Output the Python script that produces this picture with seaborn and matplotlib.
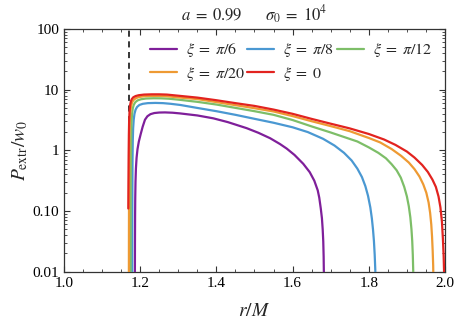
import numpy as np
import pandas as pd
import matplotlib
matplotlib.use("Agg")
import matplotlib.pyplot as plt
import matplotlib.ticker as mticker
import seaborn as sns

# Valeurs (r/M, P_extr/w0)
r_pi6 = [1.1861, 1.1863, 1.1866, 1.187, 1.1877, 1.1888, 1.1905, 1.193, 1.1965, 1.2013, 1.2065,
         1.2126, 1.219, 1.227, 1.237, 1.25, 1.265, 1.285, 1.305, 1.35, 1.392, 1.43, 1.4795,
         1.51, 1.541, 1.567, 1.5845, 1.605, 1.628, 1.645, 1.657, 1.666, 1.670, 1.674, 1.677,
         1.679, 1.6805, 1.6815, 1.682, 1.6826]
p_pi6 = [0.008, 0.03, 0.08, 0.16, 0.3, 0.5, 0.75, 1.05, 1.4, 1.85, 2.45,
         3.2, 3.65, 3.95, 4.12, 4.2, 4.22, 4.17, 4.06, 3.76, 3.37, 2.92, 2.32,
         1.95, 1.585, 1.27, 1.07, 0.84, 0.60, 0.437, 0.316, 0.219, 0.166, 0.11, 0.076,
         0.050, 0.0316, 0.0178, 0.0105, 0.008]

r_pi8 = [1.179, 1.1792, 1.1795, 1.1799, 1.1805, 1.1815, 1.183, 1.185, 1.188, 1.192, 1.198,
         1.207, 1.22, 1.24, 1.26, 1.28, 1.305, 1.35, 1.40, 1.45, 1.50, 1.55, 1.60, 1.64,
         1.68, 1.71, 1.735, 1.755, 1.77, 1.782, 1.791, 1.798, 1.804, 1.808, 1.811, 1.8135,
         1.8155, 1.817, 1.8177]
p_pi8 = [0.008, 0.05, 0.25, 0.7, 1.4, 2.3, 3.2, 4.0, 4.7, 5.2, 5.6,
         5.85, 6.0, 6.05, 6.0, 5.85, 5.6, 5.0, 4.42, 3.85, 3.31, 2.85, 2.40, 2.0,
         1.55, 1.20, 0.91, 0.68, 0.50, 0.363, 0.257, 0.178, 0.115, 0.076, 0.05, 0.032,
         0.019, 0.011, 0.008]

r_pi12 = [1.1748, 1.175, 1.1753, 1.1757, 1.1763, 1.1772, 1.1785, 1.1805, 1.183, 1.187, 1.193,
          1.202, 1.215, 1.235, 1.255, 1.275, 1.30, 1.35, 1.40, 1.45, 1.50, 1.55, 1.60, 1.65,
          1.70, 1.74, 1.77, 1.80, 1.825, 1.845, 1.86, 1.873, 1.884, 1.893, 1.90, 1.905,
          1.909, 1.912, 1.914, 1.9155, 1.9165, 1.917]
p_pi12 = [0.008, 0.05, 0.25, 0.8, 1.7, 2.8, 3.9, 4.9, 5.6, 6.2, 6.65,
          6.95, 7.15, 7.22, 7.2, 7.1, 6.85, 6.3, 5.69, 5.01, 4.42, 3.85, 3.16, 2.48,
          1.97, 1.62, 1.40, 1.12, 0.91, 0.74, 0.59, 0.47, 0.355, 0.25, 0.174, 0.12,
          0.079, 0.05, 0.032, 0.019, 0.011, 0.008]

r_pi20 = [1.1703, 1.1705, 1.1708, 1.1712, 1.1718, 1.1727, 1.174, 1.176, 1.1785, 1.182, 1.188,
          1.196, 1.21, 1.23, 1.25, 1.27, 1.30, 1.35, 1.40, 1.45, 1.50, 1.55, 1.60, 1.65,
          1.70, 1.75, 1.80, 1.83, 1.86, 1.885, 1.905, 1.92, 1.933, 1.943, 1.951, 1.957,
          1.961, 1.964, 1.966, 1.9677, 1.969, 1.9695]
p_pi20 = [0.008, 0.05, 0.25, 0.8, 1.8, 3.0, 4.2, 5.3, 6.1, 6.7, 7.2,
          7.55, 7.8, 7.9, 7.9, 7.8, 7.45, 7.0, 6.24, 5.56, 4.95, 4.37, 3.67, 3.02,
          2.51, 2.07, 1.60, 1.35, 1.05, 0.81, 0.63, 0.49, 0.37, 0.275, 0.20, 0.138,
          0.093, 0.060, 0.038, 0.022, 0.0126, 0.008]

r_0 = [1.1688, 1.1692, 1.1697, 1.1703, 1.171, 1.172, 1.1735, 1.1755, 1.178, 1.182, 1.188,
       1.196, 1.21, 1.23, 1.25, 1.27, 1.30, 1.35, 1.40, 1.45, 1.50, 1.55, 1.60, 1.65,
       1.70, 1.75, 1.80, 1.84, 1.87, 1.90, 1.92, 1.94, 1.955, 1.967, 1.976, 1.983, 1.988,
       1.992, 1.9945, 1.9965, 1.998]
p_0 = [0.11, 0.3, 0.8, 1.8, 3.0, 4.3, 5.5, 6.4, 7.0, 7.5, 7.85,
       8.1, 8.3, 8.38, 8.38, 8.3, 7.95, 7.4, 6.7, 6.0, 5.4, 4.7, 4.0, 3.3,
       2.75, 2.3, 1.86, 1.51, 1.23, 0.955, 0.76, 0.575, 0.44, 0.33, 0.25, 0.174, 0.115,
       0.066, 0.035, 0.018, 0.008]

r_dash = 1.17

courbes = [
    (r"$\xi\;=\;\pi/6$", r_pi6, p_pi6, "#7f1f9a"),
    (r"$\xi\;=\;\pi/8$", r_pi8, p_pi8, "#4a98d2"),
    (r"$\xi\;=\;\pi/12$", r_pi12, p_pi12, "#7dbe68"),
    (r"$\xi\;=\;\pi/20$", r_pi20, p_pi20, "#ee9a33"),
    (r"$\xi\;=\;0$", r_0, p_0, "#e2231f"),
]

sns.set_theme(style="ticks")
plt.rcParams['font.family'] = ['Liberation Serif', 'DejaVu Serif']
plt.rcParams['mathtext.fontset'] = 'stix'

fig = plt.figure(figsize=(4.58, 3.24), dpi=100)
ax = fig.add_axes([0.1397, 0.1614, 0.8319, 0.7491])

ax.axvline(r_dash, color="black", ls=(0, (4, 3)), lw=1.1, zorder=1)

for label, r, p, col in courbes:
    df = pd.DataFrame({"r": r, "P": p})
    sns.lineplot(data=df, x="r", y="P", ax=ax, color=col, lw=1.6,
                 sort=False, estimator=None, label=label, zorder=3)

ax.set_yscale("log")
ax.set_xlim(1.0, 2.0)
ax.set_ylim(0.01, 100)
ax.set_yticks([0.01, 0.1, 1, 10, 100])
ax.set_yticklabels(["0.01", "0.10", "1", "10", "100"])
ax.set_xticks([1.0, 1.2, 1.4, 1.6, 1.8, 2.0])
ax.set_xticklabels(["1.0", "1.2", "1.4", "1.6", "1.8", "2.0"])
ax.xaxis.set_minor_locator(mticker.MultipleLocator(0.05))
ax.yaxis.set_minor_locator(mticker.LogLocator(base=10, subs=np.arange(2, 10)))
ax.yaxis.set_minor_formatter(mticker.NullFormatter())

ax.tick_params(which="both", direction="in", top=True, right=True, colors="#333333",
               labelcolor="black", labelsize=11)
ax.tick_params(which="major", length=4, width=0.8)
ax.tick_params(which="minor", length=2, width=0.6)
for s in ax.spines.values():
    s.set_color("#333333")
    s.set_linewidth(0.9)

ax.set_xlabel(r"$r/M$", fontsize=14, labelpad=10)
ax.set_ylabel(r"$P_{\mathrm{extr}}/w_0$", fontsize=14, labelpad=2)
ax.set_title(r"$a\;=\;0.99\qquad\sigma_0\;=\;10^4$", fontsize=12, pad=6)

# ordre pour avoir 3 entrées sur la première ligne
h, l = ax.get_legend_handles_labels()
ordre = [0, 3, 1, 4, 2]
ax.legend([h[i] for i in ordre], [l[i] for i in ordre], ncol=3, frameon=False,
          loc="upper right", bbox_to_anchor=(0.995, 0.995), fontsize=11.5,
          handlelength=1.7, handletextpad=0.55, columnspacing=0.15, labelspacing=0.35,
          borderaxespad=0.3)

fig.savefig("out.png", dpi=100)
